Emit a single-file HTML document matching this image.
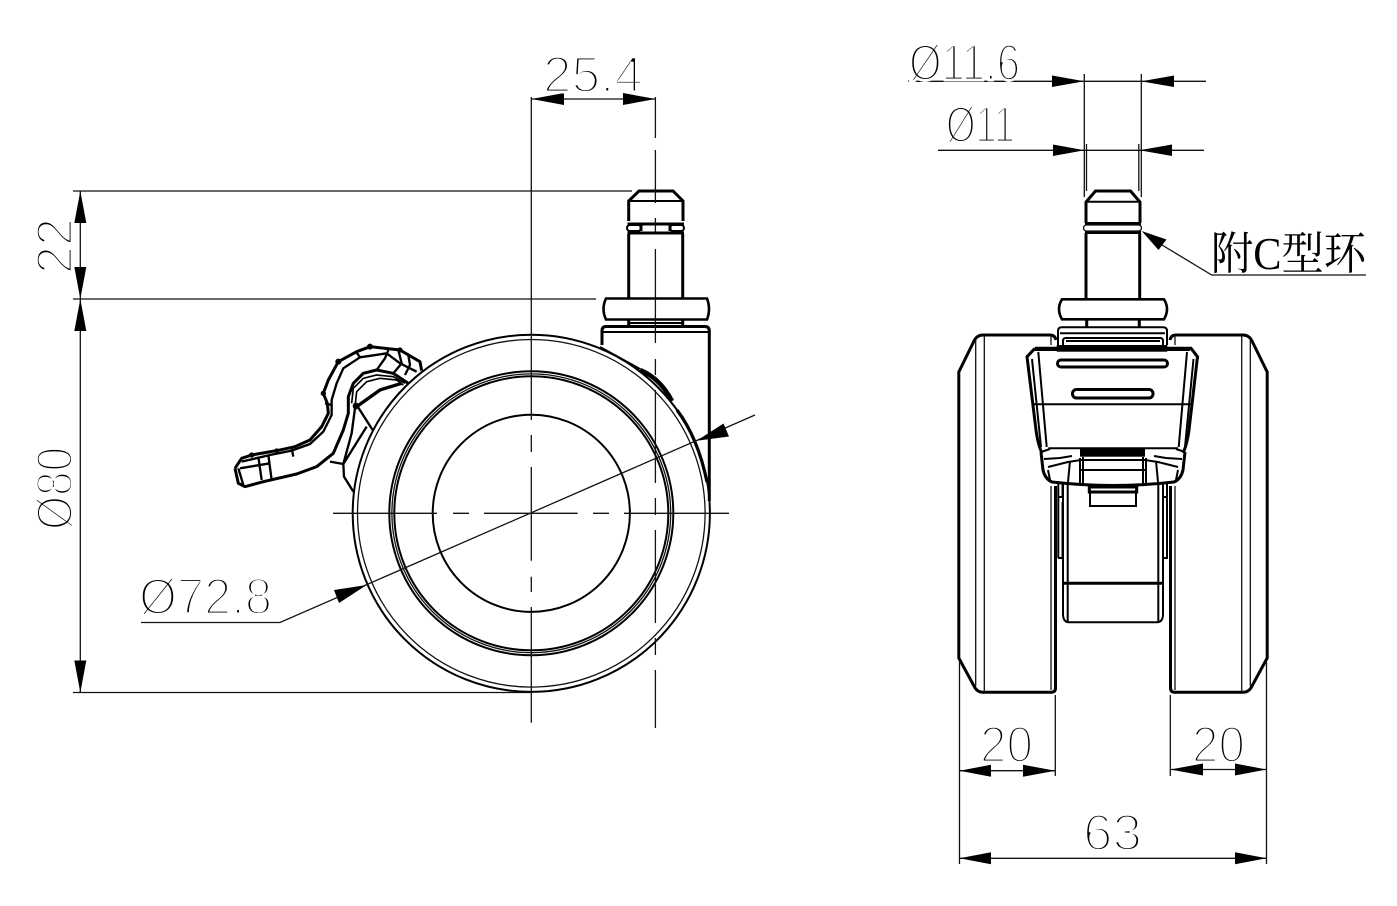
<!DOCTYPE html>
<html><head><meta charset="utf-8"><style>
html,body{margin:0;padding:0;background:#fff}
svg{display:block}
.t{font-family:"Liberation Sans",sans-serif;font-size:51px;fill:#000;stroke:#fff;stroke-width:2.9px}
.c{font-family:"Liberation Serif","Noto Serif CJK SC",serif;font-size:45px;fill:#000}
.d{stroke:#111;stroke-width:1.3;fill:none}
.m{stroke:#000;stroke-width:2;fill:none}
.k{stroke:#000;stroke-width:3;fill:none}
.a{fill:#000;stroke:none}
</style></head><body>
<svg width="1397" height="906" viewBox="0 0 1397 906" xmlns="http://www.w3.org/2000/svg">
<rect width="1397" height="906" fill="#fff"/>

<!-- LEFT VIEW: wheel -->
<g fill="none">
<circle cx="531.3" cy="513.3" r="178.6" class="m"/>
<circle cx="531.3" cy="513.3" r="173.8" class="d"/>
<circle cx="531.3" cy="513.3" r="142" class="m"/>
<circle cx="531.3" cy="513.3" r="139.4" class="d"/>
<circle cx="531.3" cy="513.3" r="137" class="m"/>
<circle cx="531.3" cy="513.3" r="98.6" class="m"/>
</g>
<path class="k" style="stroke-width:4.5" d="M640,370 Q660,378 672,401"/>
<path class="k" style="stroke-width:3.2" d="M677,410 Q698,438 707,482"/>
<path class="m" d="M600,347 L640,369"/>

<!-- left stem -->
<g>
<path class="k" d="M628.7,221 V201 L639,191 H673 L683,201 V221"/>
<path class="m" d="M628.7,201 H683"/>
<path class="k" d="M627.5,224 H684 M627.5,233 H684"/>
<rect x="627" y="225" width="14" height="6" rx="3" class="m"/>
<rect x="670" y="225" width="14" height="6" rx="3" class="m"/>
<path class="k" d="M641,225 V231 M670,225 V231"/>
<path class="k" d="M628.7,234 V298 M682.7,234 V298"/>
<path class="k" style="stroke-width:2.6" d="M606,298.5 H707 Q711,309 707,319.5 H606 Q601,309 606,298.5 Z"/>
<path class="k" d="M628.7,320 V327 M682.7,320 V327"/>
<path class="m" d="M628,323 H683"/>
<path class="k" d="M602,345 V331 Q602,326.5 606,326.5 H705 Q709.3,326.5 709.3,331 V501"/>
<path class="m" d="M602,332 H709"/>
</g>

<!-- lever (coords from 3x crop) -->
<g transform="translate(220,320) scale(.3333)" fill="none" stroke="#000" stroke-width="9" stroke-linejoin="round">
<path d="M45,445 L65,415 L95,405 L170,392 L225,380 L270,360 L305,320 L325,280 L322,250 L310,220 L325,180 L355,125 L410,95 L450,80 L540,90 L600,125 L605,152"/>
<path d="M45,445 L55,490 L75,500 L130,485 L230,462 L290,440 L340,400 L370,330 L385,280 L385,230 L400,190 L430,160 L470,150 L520,160 L565,190"/>
<path stroke-width="7" d="M65,425 L150,405 L215,392 L270,372 L310,335 L335,285 L335,240 L350,190 L370,145 L420,112 L500,100 L540,130 L590,155"/>
<path stroke-width="5" d="M395,250 L400,205 L430,175 L470,165 L520,170 L555,190"/>
<path stroke-width="5" d="M405,260 L410,215 L440,185 L480,175 L530,180 L550,195"/>
<path stroke-width="10" d="M410,260 L480,210 L545,190"/>
<path stroke-width="7" d="M410,255 L458,330 M405,265 L395,340 L370,432 L330,425 M440,320 L370,432 L372,470 L400,515"/>
<path stroke-width="7" d="M115,410 L125,480 M145,405 L155,480 M60,445 L150,430 M55,445 L70,495 M215,385 L220,410 M315,250 L335,255 M408,95 L420,112 M505,90 L495,115 L470,150 M535,90 L545,130 L520,160 M565,105 L570,135 L555,165"/>
<g fill="#000" stroke="none">
<circle cx="95" cy="405" r="8"/><circle cx="170" cy="392" r="7"/><circle cx="310" cy="220" r="8"/><circle cx="355" cy="125" r="9"/><circle cx="450" cy="80" r="9"/><circle cx="540" cy="90" r="8"/><circle cx="408" cy="258" r="10"/>
</g>
</g>

<!-- centre lines left -->
<path class="d" d="M333,513.3 H437 M453,513.3 H469 M484,513.3 H577.7 M593,513.3 H609 M624,513.3 H729"/>
<path class="d" d="M531.3,97 V420 M531.3,435 V452 M531.3,467 V560.7 M531.3,576.7 V592 M531.3,607 V722.7"/>
<path class="d" d="M655.4,97 V138 M655.4,150 V203 M655.4,218 V233 M655.4,249 V343 M655.4,359 V375 M655.4,390 V483 M655.4,498 V515 M655.4,530 V623 M655.4,638 V655 M655.4,670 V728"/>

<!-- dims left -->
<path class="d" d="M73,191 H632 M73,299 H596 M73,692.5 H531"/>
<path class="d" d="M80.3,191 V692.5"/>
<polygon class="a" points="80.3,191 74.3,223 86.3,223"/>
<polygon class="a" points="80.3,299 74.3,267 86.3,267"/>
<polygon class="a" points="80.3,299 74.3,331 86.3,331"/>
<polygon class="a" points="80.3,692.5 74.3,660.5 86.3,660.5"/>
<path class="d" d="M531.5,99 H655.5"/>
<polygon class="a" points="531.5,99 564,93 564,105"/>
<polygon class="a" points="655.5,99 623,93 623,105"/>
<path class="d" d="M141,622.5 H280 L755,415"/>
<polygon class="a" points="366.7,585 334,590 339,603"/>
<polygon class="a" points="696.7,440.7 723.5,423.5 729,436.5"/>

<text class="t" x="543" y="92" textLength="100" lengthAdjust="spacingAndGlyphs">25.4</text>
<text class="t" x="139" y="614" textLength="133" lengthAdjust="spacingAndGlyphs">Ø72.8</text>
<text class="t" transform="translate(72,274) rotate(-90)" x="0" y="0" textLength="56" lengthAdjust="spacingAndGlyphs">22</text>
<text class="t" transform="translate(72,530) rotate(-90)" x="0" y="0" textLength="83" lengthAdjust="spacingAndGlyphs">Ø80</text>

<!-- RIGHT VIEW: tires -->
<g id="tire">
<path class="k" d="M1056,340 Q1055,335 1050,335 H983 Q977,335 974,341 L958.8,372 V658 L974,686 Q977,692.3 983,692.3 H1051 Q1055.5,692.3 1055.5,688 V486"/>
<path class="d" d="M975.7,338 V686 M984.3,336 V692"/>
<path class="d" d="M1051,336 V345 M1051,486 V690"/>
</g>
<g transform="translate(2226,0) scale(-1,1)">
<path class="k" d="M1056,340 Q1055,335 1050,335 H983 Q977,335 974,341 L958.8,372 V658 L974,686 Q977,692.3 983,692.3 H1051 Q1055.5,692.3 1055.5,688 V486"/>
<path class="d" d="M975.7,338 V686 M984.3,336 V692"/>
<path class="d" d="M1051,336 V345 M1051,486 V690"/>
</g>

<!-- right stem -->
<path class="k" d="M1086,223 V202 L1095.5,191 H1130.5 L1140,202 V223"/>
<path class="m" d="M1086,201.7 H1140"/>
<path class="k" d="M1085,223.5 H1141 M1085,232.5 H1141"/>
<rect x="1083.5" y="225" width="58" height="6" rx="3" stroke="#111" stroke-width="1.3" fill="none"/>
<path class="k" d="M1086,233 V298 M1139.7,233 V298"/>
<path class="k" style="stroke-width:2.6" d="M1062,299.3 H1164 Q1170,309 1164,319.3 H1062 Q1056,309 1062,299.3 Z"/>
<path class="k" d="M1086.7,319.5 V327 M1139.3,319.5 V327"/>
<path class="m" d="M1058,345 V331 Q1058,327.3 1062,327.3 H1163 Q1167,327.3 1167,331 V345"/>
<path class="m" d="M1060,333.3 H1165"/>
<path class="m" d="M1063,346 V341 Q1063,338 1066,338 H1160 Q1163,338 1163,341 V346"/>
<path class="m" d="M1066,341 H1160"/>
<rect x="1056.7" y="345" width="110.6" height="6.7" fill="#000"/>

<!-- clip -->
<path class="k" d="M1035,348.3 H1191 L1197.5,356.7 L1189,430 Q1187,445 1183,453 M1035,348.3 L1027,356.7 L1036,430 Q1038,445 1042,453"/>
<path class="m" d="M1038.3,352 L1046.7,447 M1187,352 L1178.7,447 M1032,359 L1041,447 M1193.5,359 L1185,447"/>
<path class="m" d="M1035,350 H1190"/>
<path class="m" d="M1031.7,404.3 H1192"/>
<path class="m" d="M1048.3,448.3 H1178"/>
<rect x="1057.5" y="360" width="110" height="7" rx="3.5" stroke="#000" stroke-width="3" fill="none"/>
<rect x="1072.5" y="389.5" width="80.5" height="8.5" rx="4" stroke="#000" stroke-width="3" fill="none"/>
<rect x="1080" y="448.3" width="65" height="8.4" fill="#000"/>
<path class="k" d="M1041,452 L1043,470 Q1045,479 1052,482 Q1113,489 1174,482 Q1181,479 1183,470 L1185,452"/>
<path class="m" d="M1041,452 L1050,449 M1185,452 L1176,449 M1044,459 L1060,458 L1072,456 M1182,459 L1166,458 L1154,456"/>
<path class="m" d="M1048,467 L1068,462 L1081,460 H1145 L1158,462 L1178,467 M1048,470 L1050,480 M1178,470 L1176,480"/>
<path class="m" d="M1070,461 L1068,482 M1156,461 L1158,482 M1080,458 V484 M1146,458 V484 M1083,457 V484 M1143,457 V484"/>
<path class="m" d="M1081,470 H1145"/>

<!-- lower brake -->
<path class="k" d="M1089.3,487 H1136.7 V492 H1089.3 Z" fill="#000"/>
<path class="m" d="M1090,490 V506 H1136 V490"/>
<path class="m" d="M1058.3,484 V558 M1062.5,484 V498 M1062.5,502 V558 M1167,484 V558 M1163,484 V498 M1163,502 V558 M1058,497 H1063 M1163,497 H1168 M1058,558 H1063 M1163,558 H1168"/>
<path class="m" d="M1063,484 V614 Q1063,622 1069,622.3 H1157 Q1163,622 1163,614 V484"/>
<path class="m" d="M1067.7,484 V622 M1158.3,484 V622"/>
<path class="k" d="M1063,583.3 H1163"/>

<!-- dims right -->
<path class="d" d="M908,81.3 H1206 M938,150.3 H1204"/>
<path class="d" d="M1084.3,74 V197 M1141.3,74 V197 M1086.5,144 V191 M1138.8,144 V191"/>
<polygon class="a" points="1084.3,81.3 1052,75.5 1052,87"/>
<polygon class="a" points="1141.3,81.3 1174,75.5 1174,87"/>
<polygon class="a" points="1084.5,150.3 1053,144.5 1053,156"/>
<polygon class="a" points="1139.5,150.3 1172,144.5 1172,156"/>
<path class="d" d="M959.5,662 V864 M1266.5,662 V864 M1055.3,695 V776 M1170.3,695 V776"/>
<path class="d" d="M959.5,770.7 H1055.3 M1170.3,769.5 H1266.5 M959.5,858.3 H1266.5"/>
<polygon class="a" points="959.5,770.7 991,764.7 991,776.7"/>
<polygon class="a" points="1055.3,770.7 1023,764.7 1023,776.7"/>
<polygon class="a" points="1170.3,769.5 1203,763.5 1203,775.5"/>
<polygon class="a" points="1266.5,769.5 1235,763.5 1235,775.5"/>
<polygon class="a" points="959.5,858.3 991,852.3 991,864.3"/>
<polygon class="a" points="1266.5,858.3 1235,852.3 1235,864.3"/>
<path class="d" d="M1162,245 L1211.7,275 H1366"/>
<polygon class="a" points="1141.7,231 1166.5,239.5 1158.5,250"/>

<text class="t" x="909" y="80" textLength="111" lengthAdjust="spacingAndGlyphs">Ø11.6</text>
<text class="t" x="946" y="142" textLength="69" lengthAdjust="spacingAndGlyphs">Ø11</text>
<text class="t" x="980" y="762" textLength="53" lengthAdjust="spacingAndGlyphs">20</text>
<text class="t" x="1192" y="762" textLength="53" lengthAdjust="spacingAndGlyphs">20</text>
<text class="t" x="1083" y="850" textLength="59" lengthAdjust="spacingAndGlyphs">63</text>
<text class="c" x="1211" y="269" textLength="155" lengthAdjust="spacingAndGlyphs">附C型环</text>
</svg>
</body></html>
